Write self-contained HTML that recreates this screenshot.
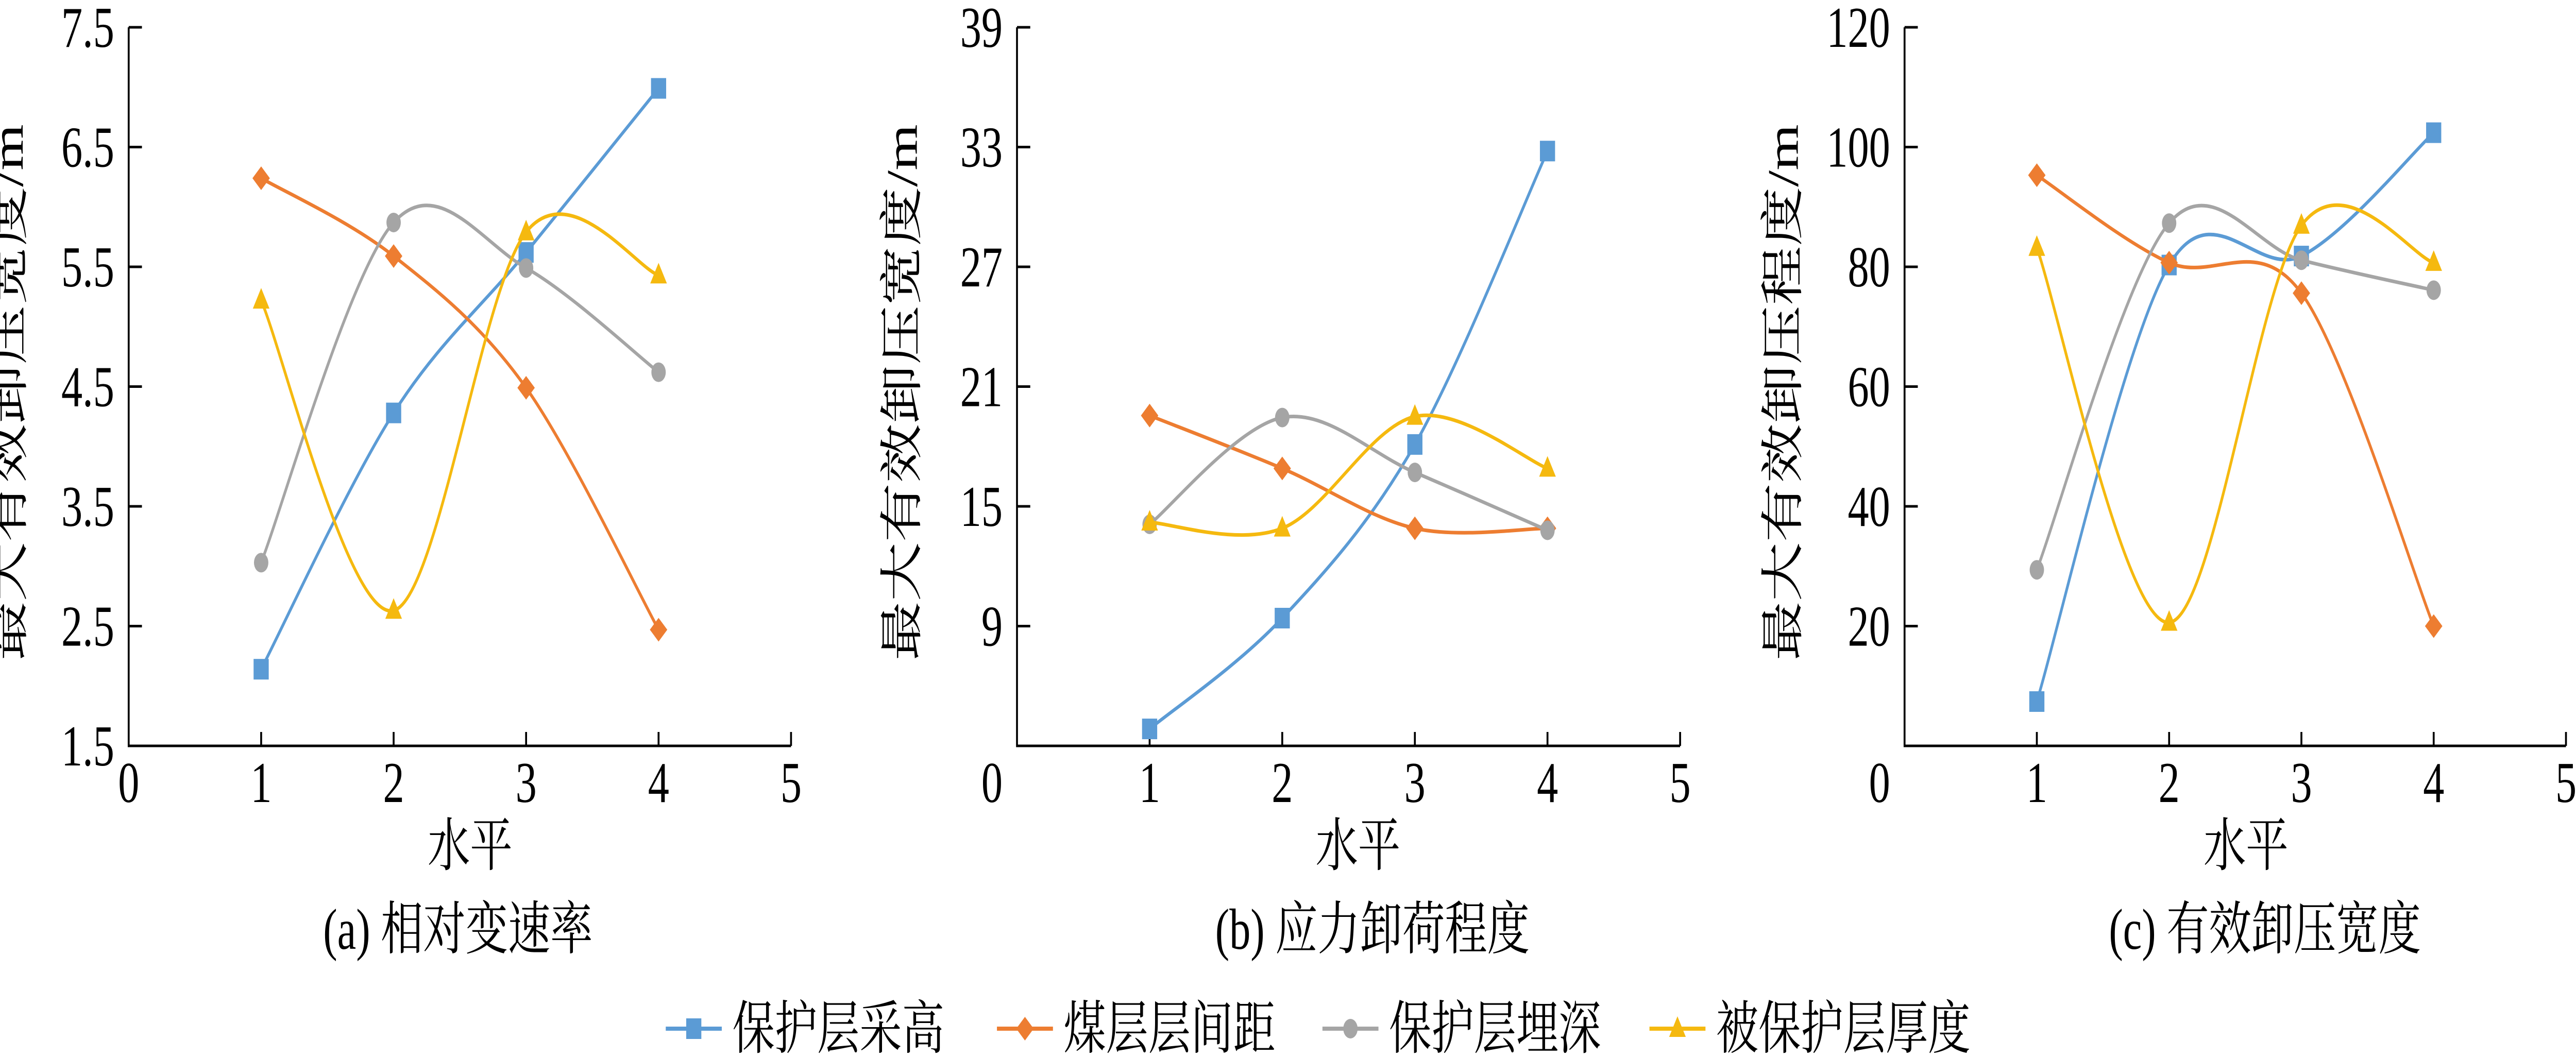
<!DOCTYPE html>
<html><head><meta charset="utf-8"><style>
html,body{margin:0;padding:0;background:#fff;overflow:hidden;width:100vw;height:100vh;}
svg{display:block;width:100vw;height:100vh;}
text{font-family:"Liberation Serif","Noto Serif CJK SC",serif;fill:#000;}
</style></head><body>
<svg id="fig" xmlns="http://www.w3.org/2000/svg" viewBox="0 0 6806 2052" preserveAspectRatio="none"></svg>
<script>
const xCategories = [1, 2, 3, 4];
const xTickLabels = ["0","1","2","3","4","5"];
const seriesNames = ["保护层采高","煤层层间距","保护层埋深","被保护层厚度"];
// chart a
const aTicks = [1.5,2.5,3.5,4.5,5.5,6.5,7.5];
const aTickLabels = ["1.5","2.5","3.5","4.5","5.5","6.5","7.5"];
const aBlue = [2.14, 4.28, 5.62, 6.99];
const aOrange = [6.24, 5.59, 4.49, 2.47];
const aGray = [3.03, 5.87, 5.49, 4.62];
const aYellow = [5.22, 2.63, 5.79, 5.43];
// chart b
const bTicks = [9,15,21,27,33,39];
const bTickLabels = ["9","15","21","27","33","39"];
const bBlue = [3.85, 9.4, 18.1, 32.8];
const bOrange = [19.55, 16.9, 13.9, 13.9];
const bGray = [14.1, 19.45, 16.7, 13.8];
const bYellow = [14.2, 13.9, 19.5, 16.9];
// chart c
const cTicks = [20,40,60,80,100,120];
const cTickLabels = ["20","40","60","80","100","120"];
const cBlue = [7.4, 80.3, 81.8, 102.4];
const cOrange = [95.3, 80.7, 75.6, 20.0];
const cGray = [29.4, 87.3, 81.1, 76.1];
const cYellow = [83.2, 20.6, 86.9, 80.7];

const NS="http://www.w3.org/2000/svg";
const svg=document.getElementById('fig');
const colors=["#5b9bd5","#ed7d31","#a5a5a5","#f5b90f"];
const markers=["square","diamond","circle","triangle"];
function mk(tag,attrs,parent){const e=document.createElementNS(NS,tag);for(const k in attrs)e.setAttribute(k,attrs[k]);(parent||svg).appendChild(e);return e;}

function marker(g,type,cx,cy,color){
  let e;
  if(type==="square"){e=mk('rect',{x:cx-20,y:cy-20,width:40,height:40,fill:color},g);}
  else if(type==="diamond"){e=mk('polygon',{points:`${cx},${cy-23} ${cx+23},${cy} ${cx},${cy+23} ${cx-23},${cy}`,fill:color},g);}
  else if(type==="circle"){e=mk('circle',{cx:cx,cy:cy,r:19,fill:color},g);}
  else {e=mk('polygon',{points:`${cx},${cy-24} ${cx+22},${cy+16} ${cx-22},${cy+16}`,fill:color},g);}
  return e;
}

function smoothPath(pts){
  let d=`M${pts[0][0]},${pts[0][1]}`;
  for(let i=0;i<pts.length-1;i++){
    const p0=pts[i-1]||pts[i],p1=pts[i],p2=pts[i+1],p3=pts[i+2]||p2;
    const c1=[p1[0]+(p2[0]-p0[0])/6,p1[1]+(p2[1]-p0[1])/6];
    const c2=[p2[0]-(p3[0]-p1[0])/6,p2[1]-(p3[1]-p1[1])/6];
    d+=` C${c1[0]},${c1[1]} ${c2[0]},${c2[1]} ${p2[0]},${p2[1]}`;
  }
  return d;
}

function chart(cfg){
  const g=mk('g',{});
  
  
  const top=53,bot=1448;
  const xs=v=>cfg.x0+v*cfg.step;
  const ys=v=>bot-(v-cfg.yMin)/(cfg.yMax-cfg.yMin)*(bot-top);
  const xEnd=xs(5);
  const axes=mk('path',{d:`M${cfg.x0},${top} L${cfg.x0},${bot} L${xEnd},${bot}`,fill:'none',stroke:'#000','stroke-width':5},g);
  
  
  cfg.ticks.forEach((t,i)=>{
    const y=ys(t);
    mk('line',{x1:cfg.x0,y1:y,x2:cfg.x0+35,y2:y,stroke:'#000','stroke-width':5},g);
    const tx=mk('text',{x:cfg.x0-38,y:y+38,'font-size':112,'text-anchor':'end'},g);
    
    
    tx.textContent=cfg.tickLabels[i];
  });
  for(let i=0;i<=5;i++){
    const x=xs(i);
    if(i>0) mk('line',{x1:x,y1:bot,x2:x,y2:bot-27,stroke:'#000','stroke-width':5},g);
    const tx=mk('text',{x:cfg.zeroRight&&i===0?cfg.x0-38:x,y:1557,'font-size':112,'text-anchor':cfg.zeroRight&&i===0?'end':'middle'},g);
    
    
    tx.textContent=xTickLabels[i];
  }
  const xt=mk('text',{x:cfg.xTitleX,y:1680,'font-size':112,'text-anchor':'middle'},g);
  
  
  xt.textContent='水平';
  const cap=mk('text',{x:cfg.capX,y:1842,'font-size':112,'text-anchor':'middle'},g);
  
  
  cap.textContent=cfg.caption;
  const yt=mk('text',{x:0,y:0,'font-size':115,'text-anchor':'middle',transform:`translate(${cfg.yTitleX+40},762) rotate(-90)`},g);
  
  
  yt.textContent=cfg.yTitle;
  cfg.series.forEach((vals,si)=>{
    const pts=vals.map((v,i)=>[xs(xCategories[i]),ys(v)]);
    const p=mk('path',{d:smoothPath(pts),fill:'none',stroke:colors[si],'stroke-width':7},g);
    
    
    pts.forEach(pt=>{
      const m=marker(g,markers[si],pt[0],pt[1],colors[si]);
      
      
    });
  });
}

chart({name:'chart-a',x0:340,step:350,yMin:1.5,yMax:7.5,ticks:aTicks,tickLabels:aTickLabels,series:[aBlue,aOrange,aGray,aYellow],caption:'(a) 相对变速率',capX:1210,xTitleX:1242,yTitleX:20,yTitle:'最大有效卸压宽度/m',zeroRight:false});
chart({name:'chart-b',x0:2687,step:350.4,yMin:3,yMax:39,ticks:bTicks,tickLabels:bTickLabels,series:[bBlue,bOrange,bGray,bYellow],caption:'(b) 应力卸荷程度',capX:3626,xTitleX:3588,yTitleX:2382,yTitle:'最大有效卸压宽度/m',zeroRight:true});
chart({name:'chart-c',x0:5032,step:349.5,yMin:0,yMax:120,ticks:cTicks,tickLabels:cTickLabels,series:[cBlue,cOrange,cGray,cYellow],caption:'(c) 有效卸压宽度',capX:5984,xTitleX:5934,yTitleX:4710,yTitle:'最大有效卸压程度/m',zeroRight:true});

// legend
const lg=mk('g',{});


const legX=[1759,2634,3494,4358];
seriesNames.forEach((n,i)=>{
  const eg=mk('g',{},lg);
  
  
  mk('line',{x1:legX[i],y1:1997,x2:legX[i]+148,y2:1997,stroke:colors[i],'stroke-width':8},eg);
  marker(eg,markers[i],legX[i]+74,1997,colors[i]);
  const t=mk('text',{x:legX[i]+176,y:2035,'font-size':112},eg);
  
  
  t.textContent=n;
});
</script>
</body></html>
